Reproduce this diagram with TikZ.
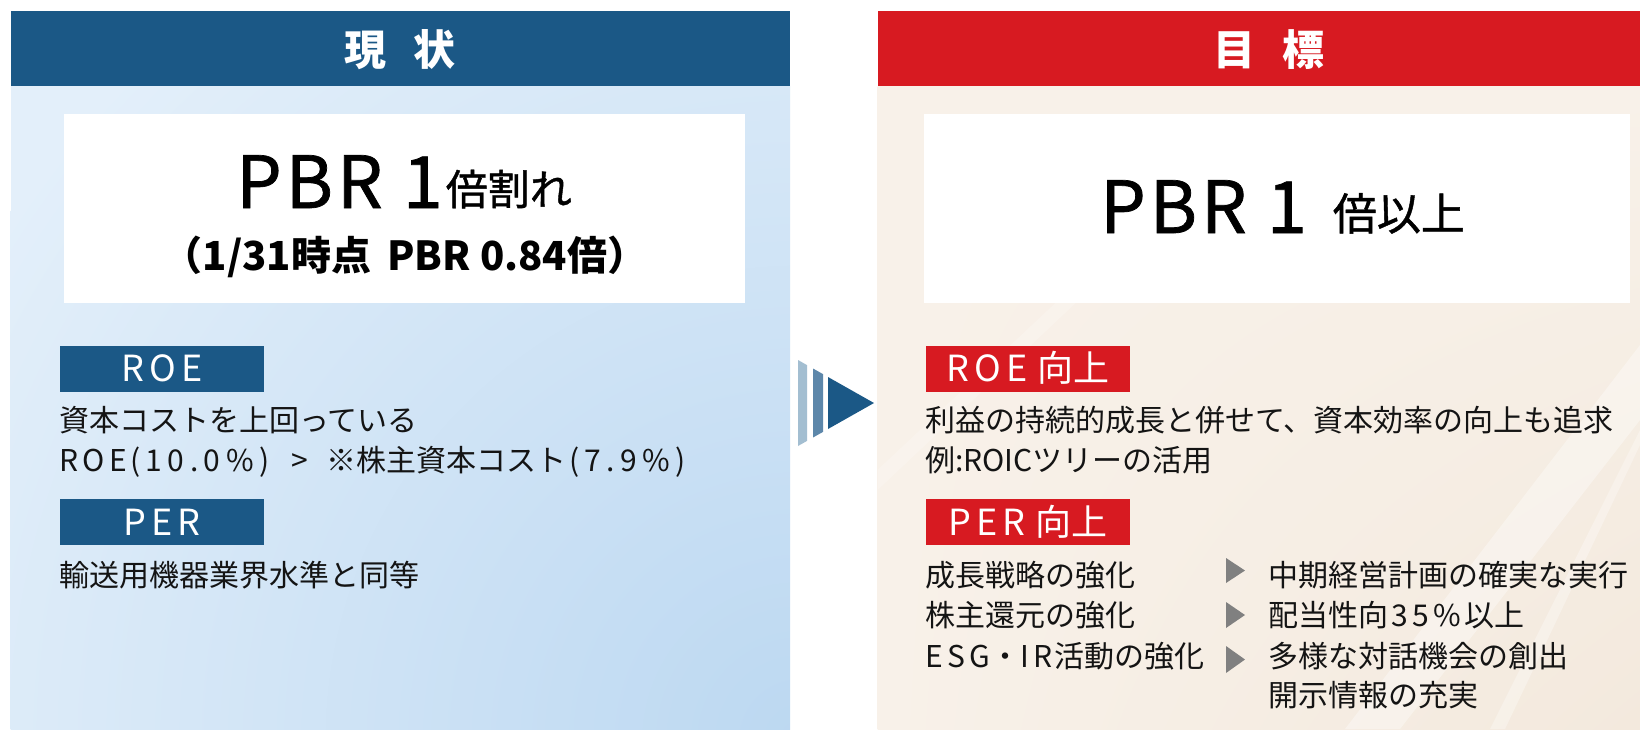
\documentclass[tikz,border=0pt]{standalone}
\usepackage{fontspec}
\setmainfont{Noto Sans CJK JP}
\newfontfamily\medfont[FakeBold=1]{Noto Sans CJK JP}
\usetikzlibrary{shadings}
\definecolor{navy}{RGB}{27,88,134}
\definecolor{redh}{RGB}{215,26,33}
\definecolor{lbA}{RGB}{227,239,250}
\definecolor{lbC}{RGB}{188,216,241}
\definecolor{crA}{RGB}{248,241,233}
\definecolor{crB}{RGB}{243,233,221}
\definecolor{barA}{RGB}{163,190,209}
\definecolor{barB}{RGB}{93,135,170}
\definecolor{tgray}{RGB}{128,128,128}
\definecolor{txt}{RGB}{20,20,20}
\newcommand\setfs[1]{\fontsize{#1}{#1}\selectfont}
\newcommand\tbk{\kern4.5pt}
\newcommand\tdk{\kern5.5pt}
\newcommand\tgk{\kern5pt}
\newcommand\tpk{\kern4pt}
\tikzset{
  headtxt/.style={text=white, inner sep=0pt, anchor=base, font=\setfs{42}\bfseries},
  body/.style={text=txt, inner sep=0pt, anchor=base west, font=\setfs{30}},
  tagbox/.style={inner sep=0pt, text=white, minimum width=204pt, minimum height=46pt,
     text height=26pt, text depth=0pt, font=\setfs{36}},
}
\begin{document}
\begin{tikzpicture}[x=1pt,y=-1pt]
\useasboundingbox (0,0) rectangle (1640,729);
\fill[white] (0,0) rectangle (1640,729);
% left panel
\begin{scope}
\clip (10.5,86) rectangle (790,729);
\fill[lbA] (10.5,86) rectangle (790,729);
\shade[inner color=lbC, outer color=lbA] (800,740) circle (950);
\end{scope}
\fill[navy] (10.5,10.5) rectangle (790,86);
\node[headtxt] (hl) at (400,65) {現\hspace{28pt}状};
\fill[white] (64,114) rectangle (745,303);
\node[inner sep=0pt, anchor=base, text=black, font=\setfs{72}\medfont] (pbrl) at (404,208) {P\tpk B\tpk R\tpk{} 1\kern3pt\raisebox{3pt}{\setfs{42}倍割れ}};
\node[inner sep=0pt, anchor=base, text=black, font=\setfs{40}\bfseries] (pbrd) at (405,270) {（1/31時点\hspace{16pt}PBR 0.84倍）};
\node[tagbox, fill=navy] (roel) at (162,368.5) {R\tgk O\tgk E};
\node[body] (l1) at (59,431) {資本コストを上回っている};
\node[body] (l2) at (59,471) {R\tbk O\tbk E\kern3pt(\tdk 1\tdk 0\tdk .\tdk 0\tdk \%\tdk )\hspace{22pt}>\hspace{18pt}※株主資本コスト\kern3pt(\tdk 7\tdk .\tdk 9\tdk \%\tdk )};
\node[tagbox, fill=navy] (perl) at (162,522) {P\tgk E\tgk R};
\node[body] (l3) at (59,586) {輸送用機器業界水準と同等};
% arrow
\fill[barA] (798,360) -- (807,365.1) -- (807,440.9) -- (798,446) -- cycle;
\fill[barB] (813,368.5) -- (823,374.1) -- (823,431.9) -- (813,437.5) -- cycle;
\fill[navy] (828,377) -- (874,403) -- (828,429) -- cycle;
% right panel
\shade[upper left=crA, upper right=crA, lower left=crA, lower right=crB] (877.5,86) rectangle (1640,729);
\begin{scope}
\clip (877.5,86) rectangle (1640,729);
\fill[white, opacity=0.35] (1640,345) -- (1640,420) -- (1400,729) -- (1345,729) -- cycle;
\fill[white, opacity=0.3] (1640,430) -- (1640,445) -- (1505,729) -- (1490,729) -- cycle;
\fill[white, opacity=0.2] (877.5,470) -- (1080,280) -- (1100,280) -- (877.5,490) -- cycle;
\end{scope}
\fill[redh] (877.5,10.5) rectangle (1640,86);
\node[headtxt] (hr) at (1269,65) {目\hspace{28pt}標};
\fill[white] (923.6,114) rectangle (1629.6,303);
\node[inner sep=0pt, anchor=base west, text=black, font=\setfs{72}\medfont] (pbrr) at (1100,233) {P\tpk B\tpk R\tpk{} 1\hspace{26pt}\raisebox{3pt}{\setfs{44}倍以上}};
\node[tagbox, fill=redh] (roer) at (1028,368.5) {R\tgk O\tgk E\hspace{10pt}向上};
\node[body] (r1) at (925,431) {利益の持続的成長と併せて、資本効率の向上も追求};
\node[body] (r2) at (925,471) {例:ROICツリーの活用};
\node[tagbox, fill=redh] (perr) at (1028,522) {P\tgk E\tgk R\hspace{10pt}向上};
\node[body] (a1) at (925,586) {成長戦略の強化};
\node[body] (a2) at (925,626) {株主還元の強化};
\node[body] (a3) at (925,667) {E\tbk S\tbk G・I\tbk R\kern2pt 活動の強化};
\fill[tgray] (1226,558) -- (1245,570.5) -- (1226,583) -- cycle;
\fill[tgray] (1226,602) -- (1245,615) -- (1226,628) -- cycle;
\fill[tgray] (1226,646) -- (1245,659.5) -- (1226,673) -- cycle;
\node[body] (b1) at (1268,586) {中期経営計画の確実な実行};
\node[body] (b2) at (1268,626) {配当性向\kern3pt 3\tbk 5\tbk \%\kern3pt 以上};
\node[body] (b3) at (1268,667) {多様な対話機会の創出};
\node[body] (b4) at (1268,706) {開示情報の充実};
\end{tikzpicture}
\end{document}
